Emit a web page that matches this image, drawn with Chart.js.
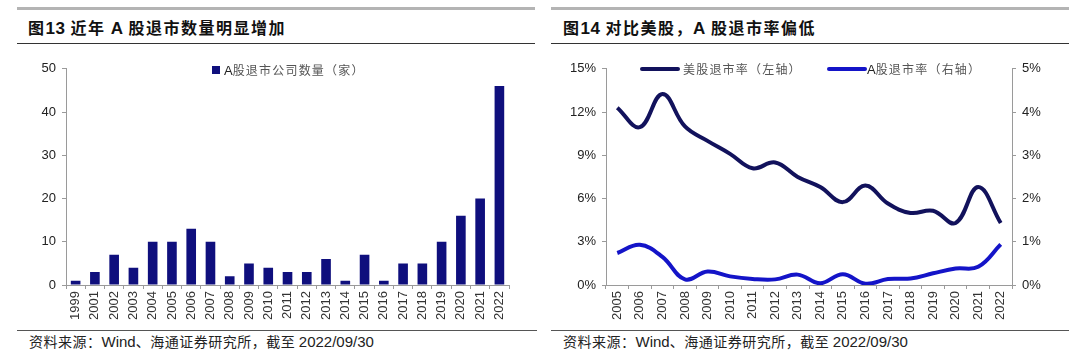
<!DOCTYPE html>
<html><head><meta charset="utf-8">
<script src="https://cdn.jsdelivr.net/npm/chart.js@4.4.0/dist/chart.umd.min.js"></script>
<style>
body{margin:0;background:#fff;width:1080px;height:364px;position:relative;overflow:hidden;font-family:"Liberation Sans",Arial,sans-serif;}
.abs{position:absolute;}
.topline{position:absolute;height:3px;background:#b4b4b4;top:7px;}
.blkline{position:absolute;height:1px;background:#333;top:43px;}
.footline{position:absolute;height:1px;background:#555;top:330px;}
.title{position:absolute;top:16px;font-family:"Noto Sans CJK SC","Liberation Sans",sans-serif;font-weight:bold;font-size:16px;letter-spacing:1.5px;color:#111;white-space:nowrap;line-height:22px;}
.title b{font-family:"Liberation Sans",Arial,sans-serif;font-size:17px;letter-spacing:0.5px;}
.foot{position:absolute;top:331px;font-family:"Noto Sans CJK SC",sans-serif;font-size:14px;letter-spacing:0.5px;color:#222;white-space:nowrap;line-height:20px;}
.foot span{font-family:"Liberation Sans",sans-serif;font-size:15px;letter-spacing:0;}
.leg{position:absolute;font-family:"Noto Sans CJK SC",sans-serif;font-size:12px;color:#555;white-space:nowrap;line-height:14px;letter-spacing:1.2px;}
.leg b{font-family:"Liberation Sans",Arial,sans-serif;font-weight:normal;color:#222;font-size:13px;letter-spacing:0;}
canvas{position:absolute;}
</style></head>
<body>
<div class="topline" style="left:17px;width:518px;"></div>
<div class="blkline" style="left:17px;width:518px;"></div>
<div class="title" style="left:28px;">图<b>13</b> 近年 <b>A</b> 股退市数量明显增加</div>
<div class="topline" style="left:551px;width:518px;"></div>
<div class="blkline" style="left:551px;width:518px;"></div>
<div class="title" style="left:563px;">图<b>14</b> 对比美股，<b>A</b> 股退市率偏低</div>

<canvas id="c1" width="507" height="275" style="left:10px;top:55px;"></canvas>
<canvas id="c2" width="510" height="275" style="left:545px;top:55px;"></canvas>

<div class="abs" style="left:212px;top:66px;width:8px;height:8px;background:#0f0f7d;"></div>
<div class="leg" style="left:224px;top:63px;"><b>A</b>股退市公司数量（家）</div>

<div class="abs" style="left:640px;top:67px;width:40px;height:4px;background:#12125c;border-radius:2px;"></div>
<div class="leg" style="left:683px;top:62px;">美股退市率（左轴）</div>
<div class="abs" style="left:827px;top:67px;width:40px;height:4px;background:#1414c8;border-radius:2px;"></div>
<div class="leg" style="left:867px;top:62px;"><b>A</b>股退市率（右轴）</div>

<div class="footline" style="left:17px;width:520px;"></div>
<div class="footline" style="left:551px;width:518px;"></div>
<div class="foot" style="left:29px;">资料来源：<span>Wind</span>、海通证券研究所，截至 <span>2022/09/30</span></div>
<div class="foot" style="left:563px;">资料来源：<span>Wind</span>、海通证券研究所，截至 <span>2022/09/30</span></div>

<script>
const barYears = ["1999","2001","2002","2003","2004","2005","2006","2007","2008","2009","2010","2011","2012","2013","2014","2015","2016","2017","2018","2019","2020","2021","2022"];
const delistCount = [1,3,7,4,10,10,13,10,2,5,4,3,3,6,1,7,1,5,5,10,16,20,46];
const countTicks = [0,10,20,30,40,50];

const lineYears = ["2005","2006","2007","2008","2009","2010","2011","2012","2013","2014","2015","2016","2017","2018","2019","2020","2021","2022"];
const usRate = [12.3,10.95,13.25,11.0,10.0,9.1,8.1,8.5,7.5,6.8,5.75,6.9,5.65,5.0,5.15,4.3,6.8,4.3];
const aRate = [0.74,0.93,0.65,0.13,0.31,0.2,0.14,0.13,0.24,0.04,0.25,0.03,0.14,0.15,0.27,0.38,0.42,0.94];
const leftPctTicks = [0,3,6,9,12,15];
const rightPctTicks = [0,1,2,3,4,5];

Chart.defaults.font.family = '"Liberation Sans", Arial, sans-serif';
Chart.defaults.color = '#222';
Chart.defaults.animation = false;

const axisGrey = '#9a9a9a';
const xTickCommon = {font:{size:13}, maxRotation:90, minRotation:90, autoSkip:false, padding:2, color:'#333'};

new Chart(document.getElementById('c1'), {
  type:'bar',
  data:{labels:barYears, datasets:[{data:delistCount, backgroundColor:'#0f0f7d', barPercentage:0.5, categoryPercentage:1.0}]},
  options:{
    responsive:false, devicePixelRatio:1,
    layout:{padding:{top:8,right:0,left:0,bottom:0}},
    plugins:{legend:{display:false}, tooltip:{enabled:false}},
    scales:{
      x:{grid:{display:true, drawOnChartArea:false, color:axisGrey, tickLength:4, offset:true}, border:{color:axisGrey},
         ticks:xTickCommon, afterFit:s=>{s.height=45;}},
      y:{min:0,max:50, afterBuildTicks:s=>{s.ticks=countTicks.map(v=>({value:v}));},
         grid:{display:true, drawOnChartArea:false, color:axisGrey, tickLength:4}, border:{color:axisGrey},
         ticks:{font:{size:13}, padding:6, color:'#222'}, afterFit:s=>{s.width=56;}}
    }
  }
});

new Chart(document.getElementById('c2'), {
  type:'line',
  data:{labels:lineYears, datasets:[
    {data:usRate, yAxisID:'y', borderColor:'#12125c', borderWidth:4, pointRadius:0, tension:0.4, fill:false},
    {data:aRate, yAxisID:'y1', borderColor:'#1414c8', borderWidth:4, pointRadius:0, tension:0.4, fill:false}
  ]},
  options:{
    responsive:false, devicePixelRatio:1,
    layout:{padding:{top:8,right:0,left:0,bottom:0}},
    plugins:{legend:{display:false}, tooltip:{enabled:false}},
    scales:{
      x:{offset:true, grid:{display:true, drawOnChartArea:false, color:axisGrey, tickLength:4, offset:true}, border:{color:axisGrey},
         ticks:xTickCommon, afterFit:s=>{s.height=45;}},
      y:{position:'left', min:0, max:15, afterBuildTicks:s=>{s.ticks=leftPctTicks.map(v=>({value:v}));},
         grid:{display:true, drawOnChartArea:false, color:axisGrey, tickLength:4}, border:{color:axisGrey},
         ticks:{font:{size:13}, padding:6, color:'#222', callback:v=>v+'%'}, afterFit:s=>{s.width=61;}},
      y1:{position:'right', min:0, max:5, afterBuildTicks:s=>{s.ticks=rightPctTicks.map(v=>({value:v}));},
         grid:{display:true, drawOnChartArea:false, color:axisGrey, tickLength:4}, border:{color:axisGrey},
         ticks:{font:{size:13}, padding:6, color:'#222', callback:v=>v+'%'}, afterFit:s=>{s.width=43;}}
    }
  }
});
</script>
</body></html>
